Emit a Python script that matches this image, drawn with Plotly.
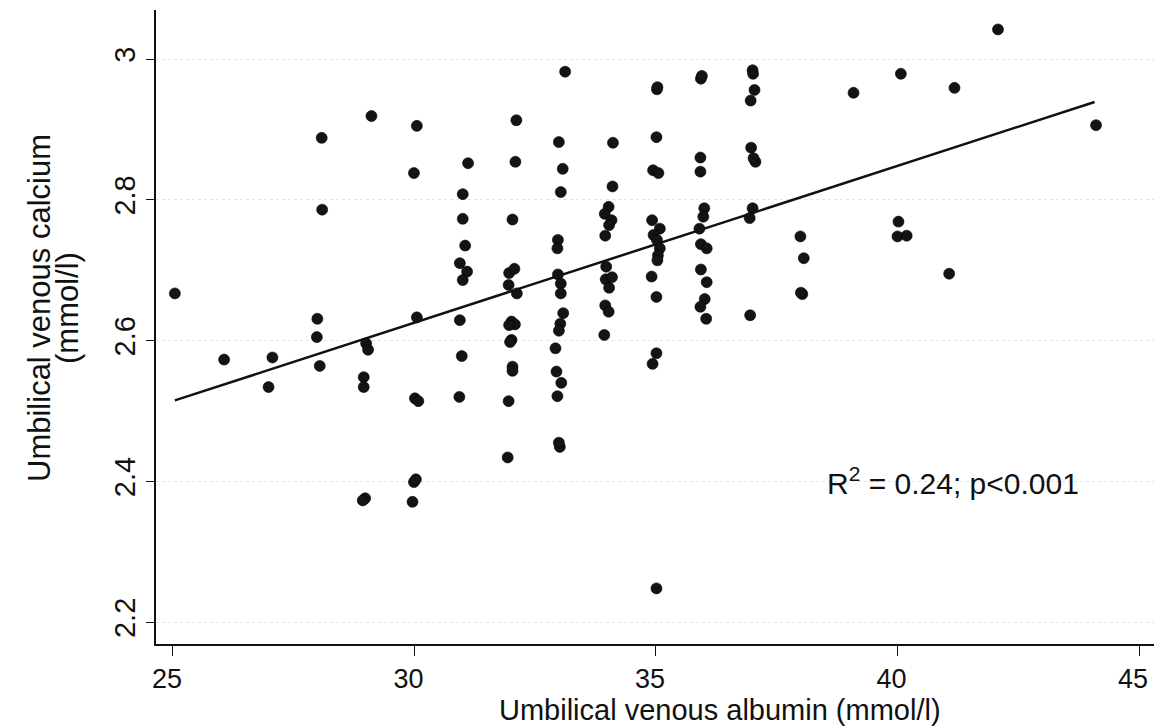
import plotly.graph_objects as go

# Umbilical venous albumin (mmol/l)
albumin = [
    25.04,
    26.06,
    27.06, 26.98,
    28.08, 28.09, 27.99, 27.98, 28.04,
    29.11, 29.00, 29.04, 28.95, 28.95, 28.98, 28.93,
    30.05, 29.99, 30.05, 30.01, 30.08, 29.99, 30.03, 29.96,
    31.11, 31.00, 31.00, 31.05, 30.94, 31.09, 31.00, 30.94, 30.98, 30.93,
    32.11, 32.09, 32.03, 31.96, 32.07, 31.95, 32.12, 32.01, 32.08, 31.96, 32.01, 31.98, 32.03, 32.03, 31.95, 31.93,
    33.12, 32.99, 33.07, 33.03, 32.97, 32.96, 32.97, 33.03, 33.03, 33.08, 33.02, 32.99, 32.92, 32.94, 33.04, 32.96, 33.01, 32.99,
    34.11, 34.10, 34.02, 33.94, 34.08, 34.03, 33.95, 33.97, 33.96, 34.09, 34.03, 33.95, 34.02, 33.93,
    35.02, 35.03, 35.01, 34.94, 35.05, 34.92, 35.08, 34.95, 35.02, 35.08, 35.04, 35.03, 34.91, 35.01, 35.01, 34.93, 35.01,
    35.93, 35.95, 35.92, 35.92, 36.00, 35.98, 35.90, 35.93, 36.05, 35.93, 36.05, 36.01, 35.92, 36.04,
    37.00, 37.01, 37.04, 36.96, 36.97, 37.06, 37.02, 37.00, 36.94, 36.95,
    37.99, 38.06, 38.03, 38.00,
    39.09,
    40.07, 40.02, 40.00, 40.19,
    41.18, 41.07,
    42.08,
    44.11,
]

# Umbilical venous calcium (mmol/l)
calcium = [
    2.667,
    2.573,
    2.576, 2.534,
    2.888, 2.786, 2.631, 2.605, 2.564,
    2.919, 2.596, 2.587, 2.548, 2.534, 2.376, 2.373,
    2.905, 2.838, 2.633, 2.518, 2.514, 2.399, 2.403, 2.371,
    2.852, 2.808, 2.773, 2.735, 2.710, 2.698, 2.686, 2.629, 2.578, 2.520,
    2.913, 2.854, 2.772, 2.696, 2.702, 2.679, 2.667, 2.627, 2.623, 2.622, 2.601, 2.598, 2.563, 2.557, 2.514, 2.434,
    2.982, 2.882, 2.844, 2.811, 2.743, 2.731, 2.694, 2.681, 2.667, 2.639, 2.624, 2.614, 2.589, 2.556, 2.540, 2.521, 2.449, 2.455,
    2.881, 2.819, 2.790, 2.780, 2.771, 2.764, 2.749, 2.705, 2.687, 2.690, 2.675, 2.650, 2.641, 2.608,
    2.957, 2.960, 2.889, 2.842, 2.838, 2.771, 2.759, 2.750, 2.743, 2.731, 2.721, 2.714, 2.691, 2.662, 2.582, 2.567, 2.248,
    2.972, 2.976, 2.860, 2.840, 2.788, 2.776, 2.759, 2.737, 2.731, 2.701, 2.683, 2.659, 2.648, 2.631,
    2.984, 2.979, 2.956, 2.941, 2.874, 2.854, 2.859, 2.788, 2.774, 2.636,
    2.748, 2.717, 2.666, 2.668,
    2.952,
    2.979, 2.769, 2.748, 2.749,
    2.959, 2.695,
    3.042,
    2.906,
]

# Regression line end points
fit_x = [25.04, 44.08]
fit_y = [2.515, 2.939]

x_ticks = [25, 30, 35, 40, 45]
y_ticks = [2.2, 2.4, 2.6, 2.8, 3.0]
y_tick_text = ["2.2", "2.4", "2.6", "2.8", "3"]

FONT = "Liberation Sans, Arial, Helvetica, sans-serif"

fig = go.Figure()
fig.add_trace(go.Scatter(
    x=fit_x, y=fit_y, mode="lines",
    line=dict(color="#111111", width=2.5),
    hoverinfo="skip", showlegend=False,
))
fig.add_trace(go.Scatter(
    x=albumin, y=calcium, mode="markers",
    marker=dict(size=11, color="#141414", line=dict(width=0.6, color="#000000")),
    showlegend=False,
))

fig.update_layout(
    width=1154, height=728,
    margin=dict(l=156, r=0, t=10, b=84),
    paper_bgcolor="white", plot_bgcolor="white",
    font=dict(family=FONT, color="#111111", size=27),
    xaxis=dict(
        range=[24.65, 45.31],
        tickvals=x_ticks,
        ticks="outside", ticklen=10, tickwidth=1.2, tickcolor="#111111",
        showline=True, linecolor="#111111", linewidth=1.6,
        showgrid=False, zeroline=False,
        ticklabeloverflow="allow", ticklabelshift=-6, ticklabelstandoff=0,
        tickfont=dict(size=27, family=FONT, color="#111111"),
    ),
    yaxis=dict(
        range=[2.169, 3.0696],
        tickvals=y_ticks, ticktext=y_tick_text,
        tickangle=-90,
        ticks="outside", ticklen=8, tickwidth=1.2, tickcolor="#111111",
        showline=True, linecolor="#111111", linewidth=1.6,
        showgrid=True, gridcolor="#e4e4e4", griddash="dot", gridwidth=1,
        zeroline=False,
        tickfont=dict(size=29, family=FONT, color="#111111"),
    ),
)

fig.add_annotation(
    text="Umbilical venous calcium", xref="paper", yref="paper",
    x=0, y=0.530, xshift=-116, xanchor="center", yanchor="middle",
    textangle=-90, showarrow=False,
    font=dict(size=31, family=FONT, color="#111111"),
)
fig.add_annotation(
    text="(mmol/l)", xref="paper", yref="paper",
    x=0, y=0.530, xshift=-88, xanchor="center", yanchor="middle",
    textangle=-90, showarrow=False,
    font=dict(size=31, family=FONT, color="#111111"),
)
fig.add_annotation(
    text="Umbilical venous albumin (mmol/l)", xref="paper", yref="paper",
    x=0, y=-0.1045, xshift=720 - 156, xanchor="center", yanchor="middle",
    showarrow=False,
    font=dict(size=29, family=FONT, color="#111111"),
)
fig.add_annotation(
    text="R<sup>2</sup> = 0.24; p<0.001", xref="x", yref="y",
    x=38.5, y=2.40, xanchor="left", yanchor="middle",
    showarrow=False,
    font=dict(size=30, family=FONT, color="#111111"),
)

fig.write_html("out.html")
